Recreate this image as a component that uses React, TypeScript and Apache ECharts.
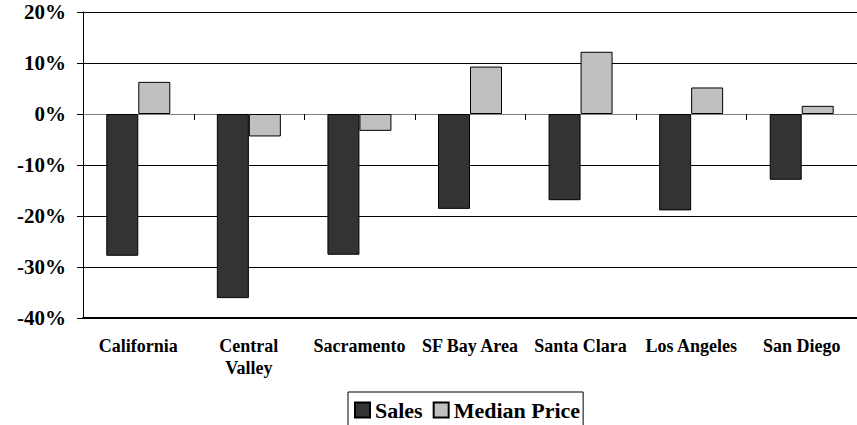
import React, { useEffect, useRef } from "react";
import * as echarts from "echarts";

const categories = ["California", "Central Valley", "Sacramento", "SF Bay Area", "Santa Clara", "Los Angeles", "San Diego"];
const salesValues = [-27.8, -36.1, -27.6, -18.6, -16.9, -18.9, -12.9];
const medianPriceValues = [6.3, -4.4, -3.3, 9.3, 12.2, 5.2, 1.6];
const yTicks = { min: -40, max: 20, interval: 10 };

const FONT = "Liberation Serif";

export default function App() {
  const ref = useRef<HTMLDivElement>(null);
  useEffect(() => {
    if (!ref.current) return;
    const chart = echarts.init(ref.current, undefined, { renderer: "svg" });
    chart.setOption({
      animation: false,
      backgroundColor: "#fff",
      grid: { left: 83, top: 12, right: 0, height: 306 },
      legend: {
        left: 348,
        top: 392,
        orient: "horizontal",
        backgroundColor: "#fff",
        borderColor: "#000",
        borderWidth: 1,
        padding: [6, 3, 12, 6],
        itemWidth: 15,
        itemHeight: 15,
        itemGap: 10,
        icon: "rect",
        textStyle: { fontFamily: FONT, fontWeight: "bold", fontSize: 22, color: "#000", lineHeight: 24 },
        data: ["Sales", "Median Price"],
      },
      xAxis: {
        type: "category",
        data: categories,
        position: "bottom",
        axisLine: { onZero: false, lineStyle: { color: "#000", width: 2 } },
        axisTick: { show: false },
        axisLabel: {
          interval: 0,
          margin: 17,
          fontFamily: FONT,
          fontWeight: "bold",
          fontSize: 18,
          color: "#000",
          lineHeight: 22,
          formatter: (v: string) => v.replace("Central ", "Central\n"),
        },
      },
      yAxis: {
        type: "value",
        min: yTicks.min,
        max: yTicks.max,
        interval: yTicks.interval,
        axisLine: { show: true, lineStyle: { color: "#000", width: 1 } },
        axisTick: { show: true, length: 6, lineStyle: { color: "#000" } },
        axisLabel: {
          margin: 17,
          fontFamily: FONT,
          fontWeight: "bold",
          fontSize: 21,
          color: "#000",
          formatter: (v: number) => `${v}%`,
        },
        splitLine: {
          show: true,
          lineStyle: { color: ["#000", "#000", "#000", "#000", "#808080", "#000", "#000"], width: 1 },
        },
      },
      series: [
        {
          name: "Sales",
          type: "bar",
          data: salesValues,
          barWidth: 32,
          barGap: "0%",
          itemStyle: { color: "#333333", borderColor: "#000", borderWidth: 1 },
        },
        {
          name: "Median Price",
          type: "bar",
          data: medianPriceValues,
          barWidth: 32,
          barGap: "0%",
          itemStyle: { color: "#C0C0C0", borderColor: "#000", borderWidth: 1 },
        },
      ],
    });
    try {
      const x0 = chart.convertToPixel({ xAxisIndex: 0 }, 0) as number;
      const x1 = chart.convertToPixel({ xAxisIndex: 0 }, 1) as number;
      const y0 = chart.convertToPixel({ yAxisIndex: 0 }, 0) as number;
      const bw = x1 - x0;
      if (isFinite(x0) && isFinite(bw) && isFinite(y0)) {
        const ticks = categories.slice(0, categories.length - 1).map((_, i) => {
          const x = Math.round(x0 + bw * i + bw / 2) + 0.5;
          return {
            type: "line",
            z: 100,
            silent: true,
            shape: { x1: x, y1: y0, x2: x, y2: y0 + 6 },
            style: { stroke: "#000", lineWidth: 1 },
          };
        });
        chart.setOption({ graphic: ticks });
      }
    } catch (e) {
      // ignore
    }
    return () => chart.dispose();
  }, []);
  return <div ref={ref} style={{ position: "fixed", left: 0, top: 0, width: 857, height: 425 }} />;
}
